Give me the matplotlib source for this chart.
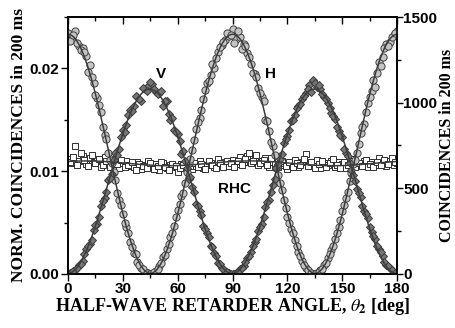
import numpy as np
import matplotlib
matplotlib.use("Agg")
import matplotlib.pyplot as plt
from matplotlib.ticker import MultipleLocator
from matplotlib.font_manager import FontProperties

plt.rcParams['mathtext.fontset'] = 'stix'

# --- data ---
# even angles
theta_a = np.arange(0, 181, 2)
# odd angles
theta_b = np.arange(1, 180, 2)

h_a = [0.0234, 0.0229, 0.0236, 0.0222, 0.0220, 0.0212, 0.0203, 0.0186, 0.0171, 0.0158,
       0.0135, 0.0118, 0.0108, 0.0091, 0.0072, 0.0058, 0.0046, 0.0031, 0.0020, 0.0012,
       0.0006, 0.0002, 0.0001, 0.0000, 0.0003, 0.0008, 0.0016, 0.0024, 0.0036, 0.0047,
       0.0062, 0.0076, 0.0088, 0.0108, 0.0121, 0.0141, 0.0152, 0.0170, 0.0186, 0.0194,
       0.0200, 0.0216, 0.0223, 0.0228, 0.0232, 0.0238, 0.0229, 0.0231, 0.0224, 0.0215,
       0.0204, 0.0195, 0.0181, 0.0172, 0.0150, 0.0139, 0.0124, 0.0103, 0.0088, 0.0072,
       0.0055, 0.0044, 0.0033, 0.0021, 0.0013, 0.0006, 0.0002, 0.0000, 0.0001, 0.0004,
       0.0009, 0.0015, 0.0023, 0.0034, 0.0046, 0.0061, 0.0074, 0.0090, 0.0107, 0.0118,
       0.0137, 0.0146, 0.0166, 0.0178, 0.0182, 0.0206, 0.0211, 0.0224, 0.0226, 0.0233,
       0.0236]
h_b = [0.0227, 0.0233, 0.0225, 0.0218, 0.0216, 0.0197, 0.0192, 0.0174, 0.0164, 0.0143,
       0.0131, 0.0111, 0.0099, 0.0079, 0.0067, 0.0050, 0.0040, 0.0026, 0.0019, 0.0009,
       0.0005, 0.0001, 0.0000, 0.0002, 0.0005, 0.0011, 0.0018, 0.0029, 0.0040, 0.0055,
       0.0068, 0.0079, 0.0099, 0.0112, 0.0130, 0.0148, 0.0160, 0.0179, 0.0188, 0.0204,
       0.0210, 0.0221, 0.0226, 0.0234, 0.0233, 0.0225, 0.0236, 0.0219, 0.0222, 0.0211,
       0.0196, 0.0192, 0.0176, 0.0168, 0.0149, 0.0128, 0.0116, 0.0096, 0.0082, 0.0064,
       0.0050, 0.0040, 0.0027, 0.0017, 0.0009, 0.0004, 0.0001, 0.0000, 0.0002, 0.0005,
       0.0011, 0.0019, 0.0027, 0.0040, 0.0052, 0.0067, 0.0080, 0.0098, 0.0111, 0.0126,
       0.0143, 0.0158, 0.0172, 0.0189, 0.0196, 0.0202, 0.0220, 0.0222, 0.0231, 0.0234]

v_a = [0.0000, 0.0002, 0.0004, 0.0009, 0.0013, 0.0024, 0.0029, 0.0043, 0.0049, 0.0066,
       0.0074, 0.0091, 0.0097, 0.0118, 0.0122, 0.0140, 0.0145, 0.0160, 0.0163, 0.0172,
       0.0168, 0.0180, 0.0183, 0.0185, 0.0177, 0.0176, 0.0163, 0.0168, 0.0150, 0.0140,
       0.0136, 0.0117, 0.0110, 0.0092, 0.0085, 0.0068, 0.0061, 0.0047, 0.0040, 0.0027,
       0.0020, 0.0011, 0.0006, 0.0003, 0.0001, 0.0000, 0.0001, 0.0005, 0.0008, 0.0015,
       0.0021, 0.0031, 0.0042, 0.0049, 0.0065, 0.0072, 0.0087, 0.0103, 0.0112, 0.0127,
       0.0134, 0.0149, 0.0155, 0.0163, 0.0170, 0.0176, 0.0184, 0.0189, 0.0182, 0.0180,
       0.0172, 0.0166, 0.0157, 0.0151, 0.0139, 0.0133, 0.0118, 0.0108, 0.0096, 0.0083,
       0.0075, 0.0061, 0.0054, 0.0041, 0.0034, 0.0024, 0.0017, 0.0009, 0.0006, 0.0002,
       0.0000]
v_b = [0.0001, 0.0003, 0.0006, 0.0010, 0.0019, 0.0027, 0.0033, 0.0048, 0.0055, 0.0071,
       0.0080, 0.0093, 0.0111, 0.0116, 0.0133, 0.0138, 0.0155, 0.0159, 0.0173, 0.0170,
       0.0181, 0.0178, 0.0187, 0.0180, 0.0175, 0.0178, 0.0168, 0.0156, 0.0152, 0.0138,
       0.0129, 0.0120, 0.0103, 0.0094, 0.0080, 0.0066, 0.0057, 0.0044, 0.0036, 0.0026,
       0.0017, 0.0010, 0.0005, 0.0002, 0.0000, 0.0000, 0.0002, 0.0006, 0.0012, 0.0017,
       0.0027, 0.0034, 0.0046, 0.0055, 0.0070, 0.0080, 0.0092, 0.0107, 0.0117, 0.0131,
       0.0140, 0.0150, 0.0161, 0.0165, 0.0173, 0.0180, 0.0177, 0.0186, 0.0184, 0.0175,
       0.0170, 0.0161, 0.0154, 0.0143, 0.0135, 0.0122, 0.0115, 0.0101, 0.0090, 0.0079,
       0.0066, 0.0058, 0.0046, 0.0037, 0.0027, 0.0021, 0.0012, 0.0008, 0.0004, 0.0001]

rhc_a = [0.0112, 0.0108, 0.0124, 0.0110, 0.0115, 0.0107, 0.0113, 0.0109, 0.0111, 0.0104,
         0.0114, 0.0109, 0.0107, 0.0112, 0.0103, 0.0108, 0.0110, 0.0105, 0.0104, 0.0109,
         0.0102, 0.0106, 0.0110, 0.0104, 0.0107, 0.0101, 0.0108, 0.0103, 0.0106, 0.0104,
         0.0099, 0.0107, 0.0103, 0.0109, 0.0102, 0.0105, 0.0110, 0.0103, 0.0106, 0.0108,
         0.0104, 0.0112, 0.0106, 0.0109, 0.0105, 0.0111, 0.0107, 0.0114, 0.0109, 0.0115,
         0.0108, 0.0112, 0.0106, 0.0110, 0.0113, 0.0104, 0.0109, 0.0111, 0.0106, 0.0108,
         0.0102, 0.0107, 0.0111, 0.0104, 0.0109, 0.0117, 0.0107, 0.0105, 0.0111, 0.0103,
         0.0108, 0.0106, 0.0110, 0.0104, 0.0109, 0.0107, 0.0103, 0.0108, 0.0112, 0.0105,
         0.0107, 0.0110, 0.0104, 0.0109, 0.0106, 0.0113, 0.0108, 0.0105, 0.0110, 0.0106,
         0.0108]
rhc_b = [0.0109, 0.0114, 0.0106, 0.0118, 0.0111, 0.0105, 0.0116, 0.0108, 0.0112, 0.0106,
         0.0110, 0.0104, 0.0109, 0.0107, 0.0111, 0.0104, 0.0106, 0.0109, 0.0101, 0.0107,
         0.0105, 0.0103, 0.0108, 0.0102, 0.0105, 0.0109, 0.0104, 0.0101, 0.0107, 0.0105,
         0.0103, 0.0106, 0.0101, 0.0105, 0.0108, 0.0104, 0.0107, 0.0102, 0.0110, 0.0106,
         0.0103, 0.0108, 0.0104, 0.0110, 0.0108, 0.0104, 0.0110, 0.0106, 0.0112, 0.0118,
         0.0110, 0.0116, 0.0108, 0.0111, 0.0106, 0.0113, 0.0107, 0.0104, 0.0110, 0.0105,
         0.0109, 0.0104, 0.0108, 0.0106, 0.0112, 0.0105, 0.0109, 0.0103, 0.0107, 0.0110,
         0.0104, 0.0108, 0.0112, 0.0106, 0.0103, 0.0109, 0.0106, 0.0110, 0.0104, 0.0108,
         0.0105, 0.0111, 0.0107, 0.0104, 0.0109, 0.0106, 0.0111, 0.0107, 0.0113, 0.0109]

theta = np.concatenate([theta_a, theta_b])
h_counts = np.concatenate([h_a, h_b])
v_counts = np.concatenate([v_a, v_b])
rhc_counts = np.concatenate([rhc_a, rhc_b])


def fit_curve(x, y, xs):
    # least squares fit: a + b cos(4x) + c sin(4x)
    r = np.radians(4 * np.asarray(x))
    A = np.column_stack([np.ones_like(r), np.cos(r), np.sin(r)])
    coef, *_ = np.linalg.lstsq(A, np.asarray(y), rcond=None)
    rs = np.radians(4 * xs)
    return coef[0] + coef[1] * np.cos(rs) + coef[2] * np.sin(rs)


xs = np.linspace(0, 180, 400)
line_col = '#3c3c3c'

fig = plt.figure(figsize=(4.56, 3.28), dpi=100)
ax = fig.add_axes([0.149, 0.165, 0.722, 0.783])

ax.plot(theta, rhc_counts, 's', ms=4.7, mfc='white', mec='#303030', mew=0.7, zorder=2)
ax.plot(theta, h_counts, 'o', ms=5.2, mfc='#c4c4c4', mec='#404040', mew=0.7, zorder=3)
ax.plot(theta, v_counts, 'D', ms=4.5, mfc='#767676', mec='#3a3a3a', mew=0.7, zorder=4)

ax.plot(xs, fit_curve(theta, h_counts, xs), color=line_col, lw=1.1, zorder=5)
ax.plot(xs, fit_curve(theta, v_counts, xs), color=line_col, lw=1.1, zorder=5)
ax.plot(xs, fit_curve(theta, rhc_counts, xs), color=line_col, lw=1.1, zorder=5)

ax.set_xlim(0, 180)
ax.set_ylim(0, 0.025)
ax.xaxis.set_major_locator(MultipleLocator(30))
ax.xaxis.set_minor_locator(MultipleLocator(15))
ax.yaxis.set_major_locator(MultipleLocator(0.01))
ax.yaxis.set_minor_locator(MultipleLocator(0.005))
ax.yaxis.set_major_formatter(plt.FuncFormatter(lambda v, p: f'{v:.2f}'))

tick_font = FontProperties(family='Liberation Sans', weight='bold', size=11)
ax.tick_params(axis='both', which='major', direction='out', length=5, width=1, pad=1)
ax.tick_params(axis='both', which='minor', direction='out', length=3, width=1)
ax.tick_params(axis='x', top=True, which='both')
for lab in ax.get_xticklabels() + ax.get_yticklabels():
    lab.set_fontproperties(tick_font)

# top ticks point inward
for t in ax.xaxis.get_major_ticks() + ax.xaxis.get_minor_ticks():
    t.tick2line.set_marker(3)

ax2 = ax.twinx()
ax2.set_ylim(0, 1500)
ax2.yaxis.set_major_locator(MultipleLocator(500))
ax2.yaxis.set_minor_locator(MultipleLocator(250))
ax2.tick_params(axis='y', which='major', direction='out', length=4, width=1, pad=0.5)
ax2.tick_params(axis='y', which='minor', direction='out', length=3, width=1)
for lab in ax2.get_yticklabels():
    lab.set_fontproperties(tick_font)

for a in (ax, ax2):
    for s in a.spines.values():
        s.set_linewidth(1.2)

label_font = dict(family='Liberation Serif', weight='bold', size=12.5)
ax.set_xlabel(r'HALF-WAVE RETARDER ANGLE, $\theta_\mathbf{2}$ [deg]', labelpad=0,
              family='Liberation Serif', weight='bold', size=13)
ax.set_ylabel('NORM. COINCIDENCES in 200 ms', labelpad=2, **label_font)
ax2.set_ylabel('COINCIDENCES in 200 ms', family='Liberation Serif', weight='bold', size=11.5)
# left edge of the rotated right label, in axes coords
ax2.yaxis.set_label_coords((439 - 68) / 329, 0.5)

ann_font = dict(family='Liberation Sans', weight='bold', size=11, ha='center', va='center')
ax.text(51, 0.0195, 'V', **ann_font)
ax.text(110.5, 0.0195, 'H', **ann_font)
ax.text(91, 0.0083, 'RHC', **ann_font)

fig.savefig('out.png', dpi=100)
